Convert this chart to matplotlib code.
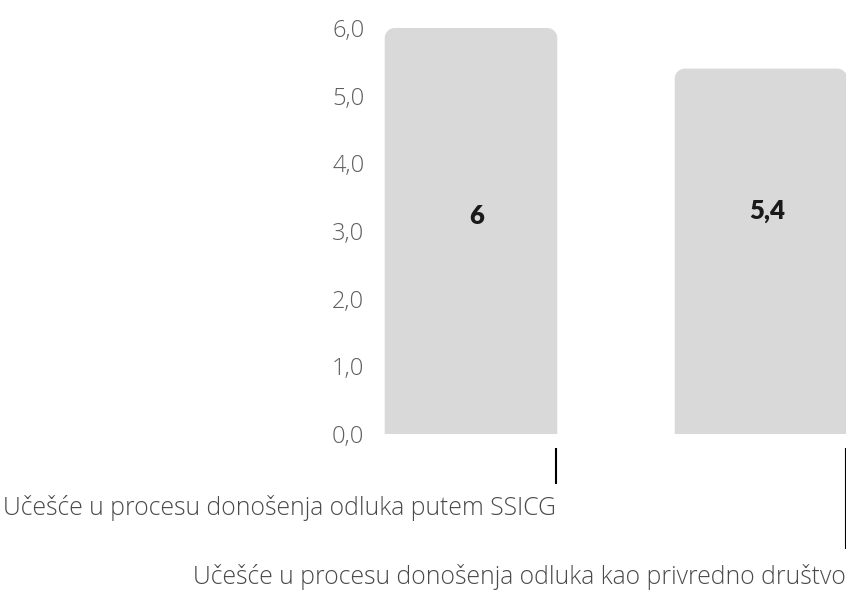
import matplotlib
matplotlib.use("Agg")
import matplotlib.pyplot as plt
from matplotlib.path import Path
from matplotlib.patches import PathPatch

categories = ["Učešće u procesu donošenja odluka putem SSICG",
              "Učešće u procesu donošenja odluka kao privredno društvo"]
values = [6.0, 5.4]
value_labels = ["6", "5,4"]
yticks = [0, 1, 2, 3, 4, 5, 6]
ytick_labels = ["0,0", "1,0", "2,0", "3,0", "4,0", "5,0", "6,0"]

W, H = 846, 590
fig = plt.figure(figsize=(W / 100, H / 100), dpi=100)
sx_px = 290.0
x_left = -0.3 - 12 / sx_px
x_right = 1.32
ax = fig.add_axes([(384 - 12) / W, 1 - 434 / H, (x_right - x_left) * sx_px / W, 406 / H])
ax.set_xlim(x_left, x_right)
ax.set_ylim(0, 6)

bar_w = 0.595
bars = ax.bar(range(len(values)), values, width=bar_w, color="none", edgecolor="none")

# rounded top corners
fig.canvas.draw()
sx = ax.transData.transform((1, 0))[0] - ax.transData.transform((0, 0))[0]
sy = ax.transData.transform((0, 1))[1] - ax.transData.transform((0, 0))[1]
r_px = 10
rx, ry = r_px / sx, r_px / sy
k = 0.5523
for b in bars:
    x0, w, h = b.get_x(), b.get_width(), b.get_height()
    x1 = x0 + w
    verts = [(x0, 0), (x0, h - ry),
             (x0, h - ry + k * ry), (x0 + rx - k * rx, h), (x0 + rx, h),
             (x1 - rx, h),
             (x1 - rx + k * rx, h), (x1, h - ry + k * ry), (x1, h - ry),
             (x1, 0), (x0, 0)]
    codes = [Path.MOVETO, Path.LINETO,
             Path.CURVE4, Path.CURVE4, Path.CURVE4,
             Path.LINETO,
             Path.CURVE4, Path.CURVE4, Path.CURVE4,
             Path.LINETO, Path.CLOSEPOLY]
    ax.add_patch(PathPatch(Path(verts, codes), facecolor="#d9d9d9", edgecolor="none", clip_on=False))

for i, (v, lab) in enumerate(zip(values, value_labels)):
    ax.text(i + 0.02, 3.22 if i == 0 else 3.3, lab, ha="center", va="center",
            fontsize=18.5, fontweight="heavy", family=["Lato", "DejaVu Sans"], color="#1a1a1a")

ax.set_yticks(yticks)
ax.set_yticklabels(ytick_labels, family=["Open Sans", "DejaVu Sans"], fontweight="light",
                   fontsize=17, color="#5e5e5e")
ax.tick_params(axis="y", length=0, pad=5.5)
ax.set_xticks([])
for s in ax.spines.values():
    s.set_visible(False)

# category labels with leader lines at bar right edges
trans = ax.get_xaxis_transform()
line_ends = [-0.123, -0.283]
label_y = [-0.182, -0.352]
for i, cat in enumerate(categories):
    xr = i + bar_w / 2 - 1.5 / sx
    ax.plot([xr, xr], [-0.0345, line_ends[i]], color="black", lw=1.5, transform=trans,
            clip_on=False, solid_capstyle="butt")
    ax.text(xr, label_y[i], cat, ha="right", va="center", transform=trans,
            family=["Open Sans", "DejaVu Sans"], fontweight="light", fontsize=17.8, color="#4a4a4a")

fig.savefig("out.png", dpi=100)
